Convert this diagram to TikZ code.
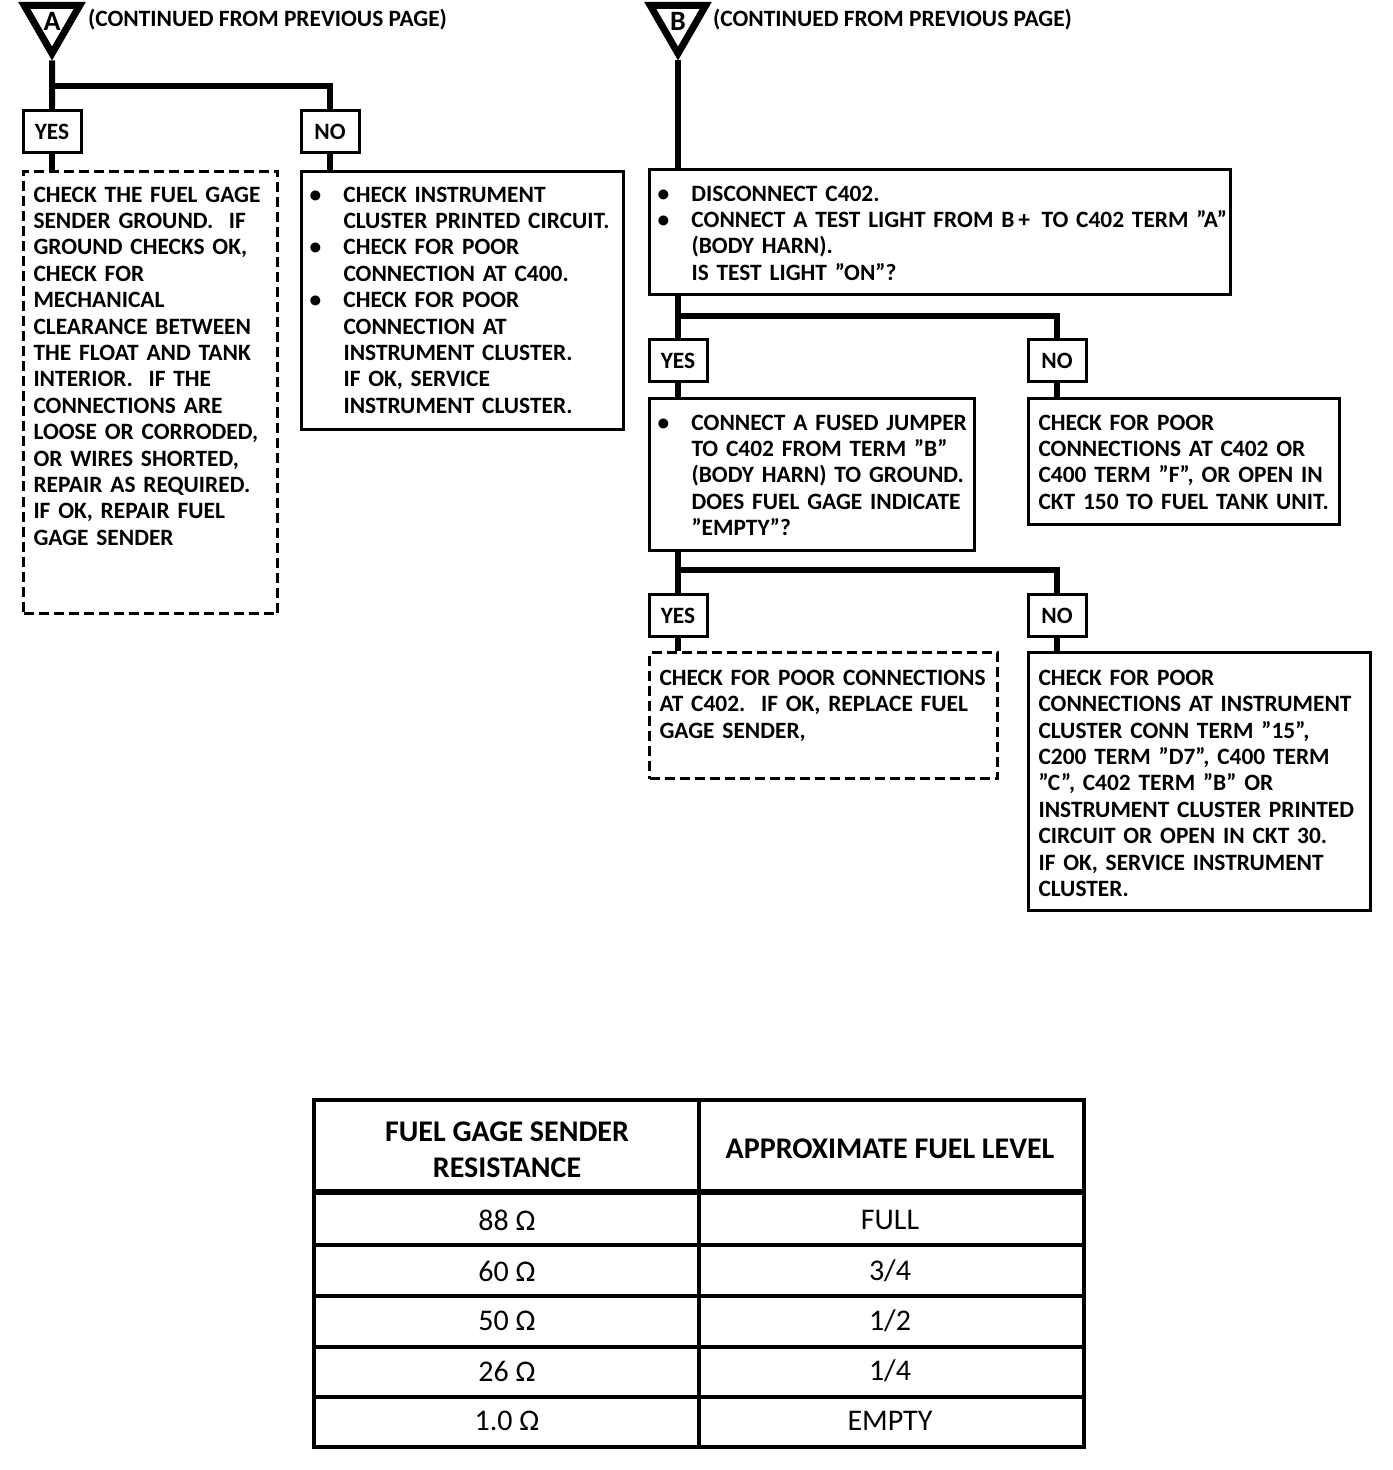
\documentclass[tikz,border=0pt]{standalone}
\usepackage{fontspec}
\setmainfont{Carlito}
\usetikzlibrary{shapes.geometric}

\newcommand{\bul}{\makebox[17pt][l]{\textbullet}}
\newcommand{\ind}{\hspace*{17pt}}
\newcommand{\boxlines}[1]{\begin{tabular}[t]{@{}l@{}}#1\end{tabular}}

\begin{document}
\begin{tikzpicture}[x=0.5pt, y=-0.5pt, font=\bfseries\fontsize{11.7}{13.2}\selectfont,
  wire/.style={line width=3pt},
  box/.style={draw, line width=1.5pt, anchor=north west, align=left, inner ysep=0pt},
  dbox/.style={box, dash pattern=on 5pt off 2.5pt},
  tag/.style={draw, line width=1.5pt, minimum width=29pt, minimum height=21pt, inner sep=0pt},
  flag/.style={regular polygon, regular polygon sides=3, shape border rotate=180, draw,
    line width=3.5pt, minimum size=32pt, inner sep=0pt, font=\bfseries\fontsize{14}{14}\selectfont},
  cell/.style={font=\fontsize{15}{18}\selectfont, align=center}]
\useasboundingbox (0,0) rectangle (1392,1470);

% branch A
\node[flag] (triA) at (52,21.5) {A};
\node[anchor=west] (contA) at (81,20) {(CONTINUED FROM PREVIOUS PAGE)};
\node[tag] (yesA) at (52,131.5) {YES};
\node[tag] (noA) at (330,131.5) {NO};
\node[dbox, inner xsep=5pt, text width=117pt, text height=15.35pt, text depth=205.65pt] (gndA) at (22,170)
  {\boxlines{CHECK THE FUEL GAGE\\ SENDER GROUND.\ \ IF\\ GROUND CHECKS OK,\\ CHECK FOR\\ MECHANICAL\\
   CLEARANCE BETWEEN\\ THE FLOAT AND TANK\\ INTERIOR.\ \ IF THE\\ CONNECTIONS ARE\\
   LOOSE OR CORRODED,\\ OR WIRES SHORTED,\\ REPAIR AS REQUIRED.\\ IF OK, REPAIR FUEL\\ GAGE SENDER}};
\node[box, inner xsep=4pt, text width=153pt, text height=15.35pt, text depth=113.65pt] (clusA) at (300,170)
  {\boxlines{\bul CHECK INSTRUMENT\\ \ind CLUSTER PRINTED CIRCUIT.\\ \bul CHECK FOR POOR\\ \ind CONNECTION AT C400.\\
   \bul CHECK FOR POOR\\ \ind CONNECTION AT\\ \ind INSTRUMENT CLUSTER.\\ \ind IF OK, SERVICE\\
   \ind INSTRUMENT CLUSTER.}};
\coordinate (jA) at (52,86);
\draw[wire] (triA.south) -- (yesA.north);
\draw[wire] (jA) -| (noA.north);
\draw[wire] (yesA.south) -- (yesA.south |- gndA.north);
\draw[wire] (noA.south) -- (noA.south |- clusA.north);

% branch B
\node[flag] (triB) at (678,21.5) {B};
\node[anchor=west] (contB) at (706,20) {(CONTINUED FROM PREVIOUS PAGE)};
\node[box, inner xsep=4pt, text width=282.5pt, text height=15.85pt, text depth=46.65pt] (lightB) at (648,168)
  {\boxlines{\bul DISCONNECT C402.\\ \bul CONNECT A TEST LIGHT FROM B\,+\ \,TO C402 TERM ”A”\\
   \ind (BODY HARN).\\ \ind IS TEST LIGHT ”ON”?}};
\node[tag] (yesB1) at (678,360.5) {YES};
\node[tag] (noB1) at (1057,360.5) {NO};
\node[box, inner xsep=4pt, text width=154.5pt, text height=15.85pt, text depth=60.15pt] (jumpB) at (648,397)
  {\boxlines{\bul CONNECT A FUSED JUMPER\\ \ind TO C402 FROM TERM ”B”\\ \ind (BODY HARN) TO GROUND.\\
   \ind DOES FUEL GAGE INDICATE\\ \ind ”EMPTY”?}};
\node[box, inner xsep=5pt, text width=145.5pt, text height=15.85pt, text depth=47.15pt] (poorB) at (1027,397)
  {\boxlines{CHECK FOR POOR\\ CONNECTIONS AT C402 OR\\ C400 TERM ”F”, OR OPEN IN\\ CKT 150 TO FUEL TANK UNIT.}};
\node[tag] (yesB2) at (678,615.5) {YES};
\node[tag] (noB2) at (1057,615.5) {NO};
\node[dbox, inner xsep=5pt, text width=164pt, text height=16.35pt, text depth=46.65pt] (sendB) at (648,651)
  {\boxlines{CHECK FOR POOR CONNECTIONS\\ AT C402.\ \ IF OK, REPLACE FUEL\\ GAGE SENDER,}};
\node[box, inner xsep=5pt, text width=161pt, text height=16.35pt, text depth=112.65pt] (clusB) at (1027,651)
  {\boxlines{CHECK FOR POOR\\ CONNECTIONS AT INSTRUMENT\\ CLUSTER CONN TERM ”15”,\\ C200 TERM ”D7”, C400 TERM\\
   ”C”, C402 TERM ”B” OR\\ INSTRUMENT CLUSTER PRINTED\\ CIRCUIT OR OPEN IN CKT 30.\\
   IF OK, SERVICE INSTRUMENT\\ CLUSTER.}};
\coordinate (jB1) at (678,316);
\coordinate (jB2) at (678,570);
\draw[wire] (triB.south) -- (triB.south |- lightB.north);
\draw[wire] (yesB1.north |- lightB.south) -- (yesB1.north);
\draw[wire] (jB1) -| (noB1.north);
\draw[wire] (yesB1.south) -- (yesB1.south |- jumpB.north);
\draw[wire] (noB1.south) -- (noB1.south |- poorB.north);
\draw[wire] (yesB2.north |- jumpB.south) -- (yesB2.north);
\draw[wire] (jB2) -| (noB2.north);
\draw[wire] (yesB2.south) -- (yesB2.south |- sendB.north);
\draw[wire] (noB2.south) -- (noB2.south |- clusB.north);

% resistance table
\draw[line width=2pt] (314,1100) rectangle (1084,1447);
\draw[line width=2pt] (699,1100) -- (699,1447);
\draw[line width=3pt] (314,1192) -- (1084,1192);
\foreach \y in {1245,1296,1347,1397}
  \draw[line width=2pt] (314,\y) -- (1084,\y);
\node[cell, font=\bfseries\fontsize{15}{18}\selectfont] (hdRes) at (507,1150) {FUEL GAGE SENDER\\RESISTANCE};
\node[cell, font=\bfseries\fontsize{15}{18}\selectfont] (hdLvl) at (890,1149) {APPROXIMATE FUEL LEVEL};
\foreach \y/\res/\lvl [count=\i] in {1220/88/FULL, 1271/60/{3/4}, 1321/50/{1/2}, 1371/26/{1/4}, 1421/1.0/EMPTY}{
  \node[cell] (res\i) at (507,\y) {\res\ Ω};
  \node[cell] (lvl\i) at (890,\y) {\lvl};
}
\end{tikzpicture}
\end{document}
